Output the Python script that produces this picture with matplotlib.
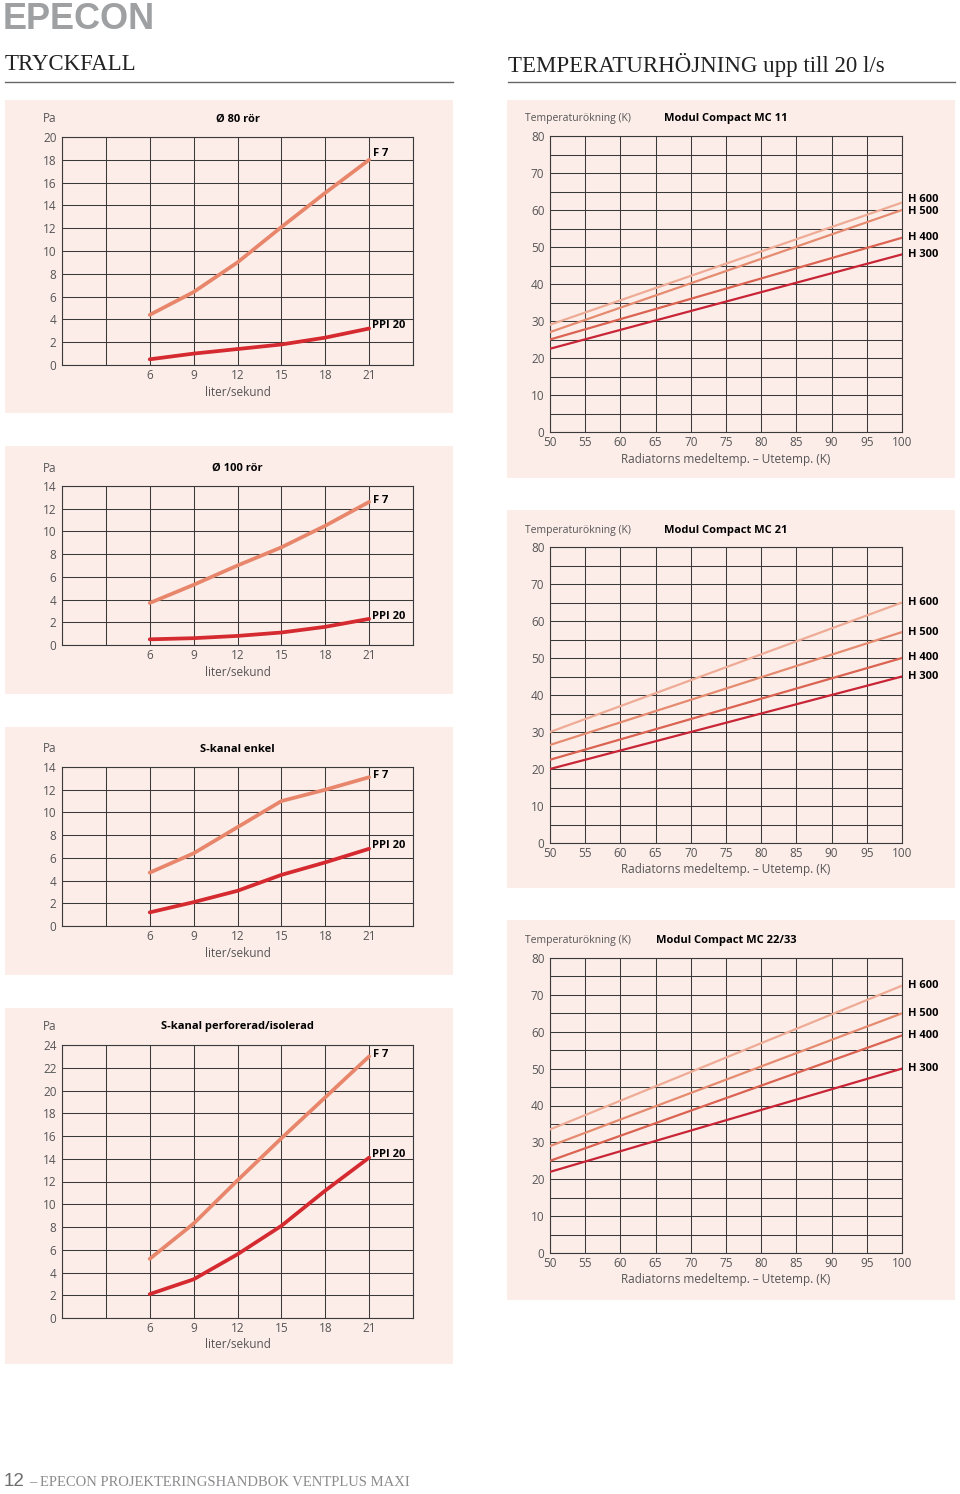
import matplotlib
matplotlib.use("Agg")
import matplotlib.pyplot as plt
from matplotlib.patches import Rectangle
import numpy as np

# ---------------- data ----------------
flow = [6, 9, 12, 15, 18, 21]  # liter/sekund

p80_title = "Ø 80 rör"
p80_f7 = [4.4, 6.4, 9.0, 12.1, 15.1, 18.0]
p80_ppi = [0.5, 1.0, 1.4, 1.8, 2.4, 3.2]

p100_title = "Ø 100 rör"
p100_f7 = [3.7, 5.3, 7.0, 8.6, 10.5, 12.6]
p100_ppi = [0.5, 0.6, 0.8, 1.1, 1.6, 2.3]

senk_title = "S-kanal enkel"
senk_f7 = [4.7, 6.4, 8.7, 11.0, 12.0, 13.1]
senk_ppi = [1.2, 2.1, 3.1, 4.5, 5.6, 6.8]

sperf_title = "S-kanal perforerad/isolerad"
sperf_f7 = [5.2, 8.3, 12.1, 15.8, 19.4, 23.0]
sperf_ppi = [2.1, 3.4, 5.6, 8.1, 11.2, 14.1]

dtemp = [50, 100]  # Radiatorns medeltemp. - Utetemp. (K)
heights = ["H 600", "H 500", "H 400", "H 300"]

mc11_title = "Modul Compact MC 11"
mc11 = {"H 600": [29.0, 62.0], "H 500": [27.0, 60.0], "H 400": [25.0, 52.5], "H 300": [22.5, 48.0]}
mc21_title = "Modul Compact MC 21"
mc21 = {"H 600": [30.0, 65.0], "H 500": [26.5, 57.0], "H 400": [22.5, 50.0], "H 300": [20.0, 45.0]}
mc22_title = "Modul Compact MC 22/33"
mc22 = {"H 600": [33.5, 72.5], "H 500": [29.0, 65.0], "H 400": [25.0, 59.0], "H 300": [22.0, 50.0]}

# ---------------- style ----------------
W, H = 960, 1494
plt.rcParams['font.family'] = ['Open Sans', 'DejaVu Sans']
BG = "#fcede9"
GRID = "#3a3a3a"
TICKC = "#555555"
C_F7 = "#e8866c"
C_PPI = "#d42a30"
C_H = {"H 600": "#eeab95", "H 500": "#e58b70", "H 400": "#da6352", "H 300": "#c82636"}

fig = plt.figure(figsize=(W / 100, H / 100), dpi=100)
fig.patch.set_facecolor("white")


def fx(x):
    return x / W


def fy(y):
    return 1 - y / H


def box(x0, y0, x1, y1):
    return [fx(x0), fy(y1), (x1 - x0) / W, (y1 - y0) / H]


def background(x0, y0, x1, y1):
    fig.patches.append(Rectangle((fx(x0), fy(y1)), (x1 - x0) / W, (y1 - y0) / H,
                                 transform=fig.transFigure, facecolor=BG,
                                 edgecolor="none", zorder=-10))


def style_axes(ax):
    ax.set_facecolor("none")
    ax.set_zorder(5)
    for s in ax.spines.values():
        s.set_color(GRID)
        s.set_linewidth(0.8)
    ax.grid(True, which="both", color=GRID, linewidth=0.75)
    ax.set_axisbelow(True)
    ax.tick_params(which="both", length=0, labelsize=8.5, labelcolor=TICKC)


def pressure_panel(bgb, axb, ymax, title, f7, ppi, f7_dy=0.0):
    background(*bgb)
    ax = fig.add_axes(box(*axb))
    style_axes(ax)
    ax.set_xlim(0, 24)
    ax.set_ylim(0, ymax)
    xt = list(range(0, 25, 3))
    ax.set_xticks(xt)
    ax.set_xticklabels([str(v) if v in flow else "" for v in xt])
    ax.set_yticks(range(0, ymax + 1, 2))
    ax.tick_params(axis="x", pad=3)
    ax.tick_params(axis="y", pad=4)
    ax.plot(flow, f7, color=C_F7, lw=2.7, solid_capstyle="round", zorder=3)
    ax.plot(flow, ppi, color=C_PPI, lw=2.7, solid_capstyle="round", zorder=3)
    ax.annotate("F 7", (flow[-1], f7[-1]), xytext=(3, 1 + f7_dy), textcoords="offset points",
                fontsize=8, fontweight="bold", va="center", ha="left")
    ax.annotate("PPI 20", (flow[-1], ppi[-1]), xytext=(2, 2), textcoords="offset points",
                fontsize=8, fontweight="bold", va="center", ha="left")
    x0, y0, x1, y1 = axb
    fig.text(fx(x0 - 12), fy(y0 - 18), "Pa", fontsize=8.5, color=TICKC, ha="center", va="center")
    fig.text(fx((x0 + x1) / 2), fy(y0 - 18), title, fontsize=8, fontweight="bold",
             ha="center", va="center")
    fig.text(fx((x0 + x1) / 2), fy(y1 + 27), "liter/sekund", fontsize=8.5, color=TICKC,
             ha="center", va="center")


def temp_panel(bgb, axb, title, data, nudges):
    background(*bgb)
    ax = fig.add_axes(box(*axb))
    style_axes(ax)
    ax.set_xlim(50, 100)
    ax.set_ylim(0, 80)
    ax.set_xticks(range(50, 101, 5))
    ax.set_yticks(range(0, 81, 10))
    ax.set_yticks(range(5, 80, 10), minor=True)
    ax.tick_params(axis="x", pad=3)
    ax.tick_params(axis="y", pad=4)
    for h in heights:
        ax.plot(dtemp, data[h], color=C_H[h], lw=1.6, zorder=3)
        ax.annotate(h, (dtemp[-1], data[h][-1] + nudges.get(h, 0)), xytext=(4, 0),
                    textcoords="offset points", fontsize=8, fontweight="bold",
                    va="center", ha="left", annotation_clip=False)
    x0, y0, x1, y1 = axb
    fig.text(fx(x0 - 25), fy(y0 - 17), "Temperaturökning (K)", fontsize=7.5, color=TICKC,
             ha="left", va="center")
    fig.text(fx((x0 + x1) / 2), fy(y0 - 17), title, fontsize=8, fontweight="bold",
             ha="center", va="center")
    fig.text(fx((x0 + x1) / 2), fy(y1 + 27), "Radiatorns medeltemp. – Utetemp. (K)",
             fontsize=8.5, color=TICKC, ha="center", va="center")


# ---------------- header ----------------
fig.text(fx(3), fy(29), "EPECON", fontsize=26, fontweight="bold", color="#9fa0a2",
         family=["Liberation Sans", "DejaVu Sans"], ha="left", va="baseline")
fig.text(fx(5), fy(65), "TRYCKFALL", fontsize=16.5, color="#222222",
         family=["Liberation Serif", "DejaVu Serif"], ha="left", va="center")
fig.text(fx(508), fy(65), "TEMPERATURHÖJNING upp till 20 l/s", fontsize=16.5, color="#222222",
         family=["Liberation Serif", "DejaVu Serif"], ha="left", va="center")
for (a, b) in [(5, 453), (508, 955)]:
    fig.add_artist(plt.Line2D([fx(a), fx(b)], [fy(82), fy(82)], color="#666666", lw=1.0,
                              transform=fig.transFigure))

# ---------------- panels ----------------
pressure_panel((5, 100, 453, 413), (62, 137, 413, 365), 20, p80_title, p80_f7, p80_ppi, f7_dy=3.5)
pressure_panel((5, 446, 453, 694), (62, 486, 413, 645), 14, p100_title, p100_f7, p100_ppi)
pressure_panel((5, 727, 453, 975), (62, 767, 413, 926), 14, senk_title, senk_f7, senk_ppi)
pressure_panel((5, 1008, 453, 1364), (62, 1045, 413, 1318), 24, sperf_title, sperf_f7, sperf_ppi)

temp_panel((507, 100, 955, 478), (550, 136, 902, 432), mc11_title, mc11,
           {"H 600": 0.8, "H 500": -0.3})
temp_panel((507, 510, 955, 888), (550, 547, 902, 843), mc21_title, mc21, {})
temp_panel((507, 920, 955, 1300), (550, 958, 902, 1253), mc22_title, mc22, {})

# ---------------- footer ----------------
fig.text(fx(4), fy(1482), "12", fontsize=13.5, color="#6d6e70",
         family=["Liberation Sans", "DejaVu Sans"], ha="left", va="center")
fig.text(fx(29), fy(1483), "– EPECON PROJEKTERINGSHANDBOK VENTPLUS MAXI", fontsize=10.5,
         color="#8a8b8d", family=["Liberation Serif", "DejaVu Serif"], ha="left", va="center")

fig.savefig("out.png", dpi=100, facecolor="white")
